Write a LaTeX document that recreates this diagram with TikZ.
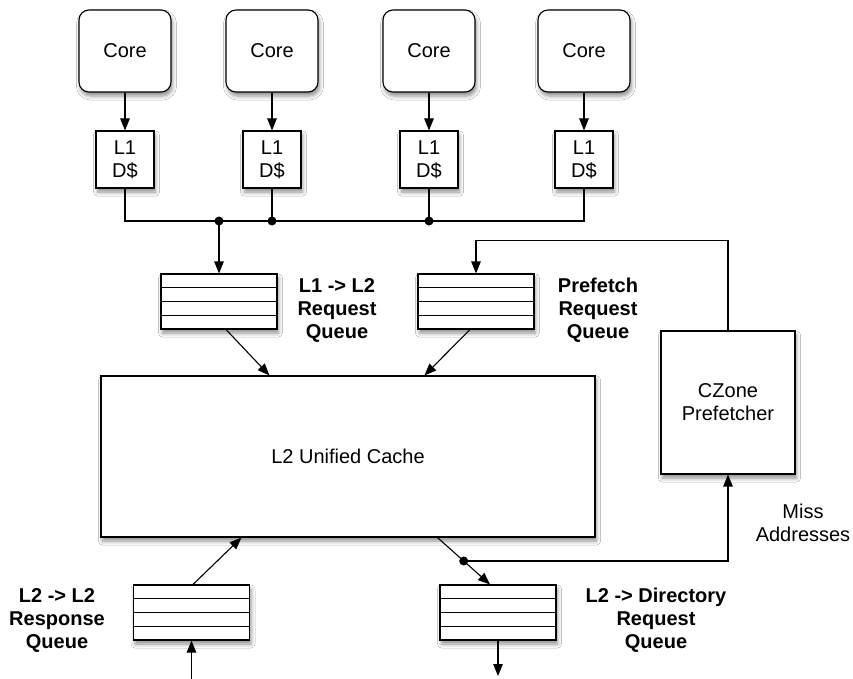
\documentclass[tikz,border=0pt]{standalone}
\usepackage{fontspec}
\setmainfont{Liberation Sans}
\usetikzlibrary{arrows.meta,calc,shadows.blur}
\begin{document}
\begin{tikzpicture}[x=1pt,y=-1pt,
  every node/.style={font=\fontsize{20}{23}\selectfont},
  shad/.style={blur shadow={shadow xshift=1.5pt,shadow yshift=-4pt,shadow blur radius=4pt,shadow opacity=45}},
  corebox/.style={draw,fill=white,line width=1.1pt,rounded corners=10pt,minimum width=92pt,minimum height=82pt,shad},
  lonebox/.style={draw,fill=white,line width=1.1pt,minimum width=58pt,minimum height=57pt,align=center,inner sep=0pt,shad},
  bigbox/.style={draw,fill=white,line width=1.1pt,align=center,shad},
  queue/.style={draw,fill=white,line width=1.1pt,minimum width=116pt,minimum height=55pt,inner sep=0pt,shad,
    path picture={
      \foreach \f in {0.25,0.5,0.75}
        \draw[line width=1.1pt] ($(path picture bounding box.north west)!\f!(path picture bounding box.south west)$) --
              ($(path picture bounding box.north east)!\f!(path picture bounding box.south east)$);
    }},
  lbl/.style={align=center,font=\fontsize{20}{23}\selectfont\bfseries},
  arr/.style={line width=1.1pt,-{Triangle[length=12pt,width=9.5pt]}},
  ln/.style={line width=1.1pt},
  jdot/.style={circle,fill=black,inner sep=0pt,minimum size=9pt}
]
\useasboundingbox[fill=white] (0,0) rectangle (853,679);

% cores
\node[corebox] (c1) at (125,51) {Core};
\node[corebox] (c2) at (272,51) {Core};
\node[corebox] (c3) at (429,51) {Core};
\node[corebox] (c4) at (584,51) {Core};
% L1 caches
\node[lonebox] (d1) at (125,159.5) {L1\\D\$};
\node[lonebox] (d2) at (272,159.5) {L1\\D\$};
\node[lonebox] (d3) at (429,159.5) {L1\\D\$};
\node[lonebox] (d4) at (584,159.5) {L1\\D\$};
\foreach \i in {1,2,3,4} \draw[arr] (c\i) -- (d\i);

% bus
\coordinate (jq) at (219,221);
\coordinate (j2) at (272,221);
\coordinate (j3) at (429,221);
\coordinate (j4) at (584,221);
\draw[ln] (d1.south) |- (j4) -- (d4.south);
\draw[ln] (d2.south) -- (j2);
\draw[ln] (d3.south) -- (j3);

% queues
\node[queue] (q1) at (219,301.5) {};
\node[queue] (q2) at (476,301.5) {};
\node[queue] (q3) at (191.5,612.5) {};
\node[queue] (q4) at (498,612.5) {};

% L2 and prefetcher
\node[bigbox,minimum width=494pt,minimum height=161pt] (l2) at (348,456.5) {L2 Unified Cache};
\node[bigbox,minimum width=134pt,minimum height=143pt] (cz) at (728,402.5) {CZone\\Prefetcher};

% labels
\node[lbl] (t1) at (337,310) {L1 -> L2\\Request\\Queue};
\node[lbl] (t2) at (598,310) {Prefetch\\Request\\Queue};
\node[lbl] (t3) at (57,620) {L2 -> L2\\Response\\Queue};
\node[lbl] (t4) at (656,620) {L2 -> Directory\\Request\\Queue};
\node[align=center] (t5) at (803,523) {Miss\\Addresses};

% connectors
\draw[arr] (jq) -- (q1.north);
\draw[arr] ([xshift=7pt]q1.south) -- ([xshift=169pt]l2.north west);
\draw[arr] ([xshift=-6pt]q2.south) -- ([xshift=324pt]l2.north west);
\draw[arr] (cz.north) |- ([yshift=33pt]q2.north) -- (q2.north);

\coordinate (a1) at ([xshift=337pt]l2.south west);
\coordinate (a2) at ([xshift=-8pt]q4.north);
\draw[arr] (a1) -- (a2);
\coordinate (md) at ($(a1)!0.5!(a2)$);
\draw[arr] (md) -| (cz.south);

\draw[arr] ([xshift=1.5pt]q3.north) -- ([xshift=141pt]l2.south west);
\coordinate (in3) at (191.5,679);
\draw[arr] (in3) -- (q3.south);
\coordinate (out4) at (498,676);
\draw[arr] (q4.south) -- (out4);

% junction dots
\node[jdot] at (jq) {};
\node[jdot] at (j2) {};
\node[jdot] at (j3) {};
\node[jdot] at (md) {};
\end{tikzpicture}
\end{document}
